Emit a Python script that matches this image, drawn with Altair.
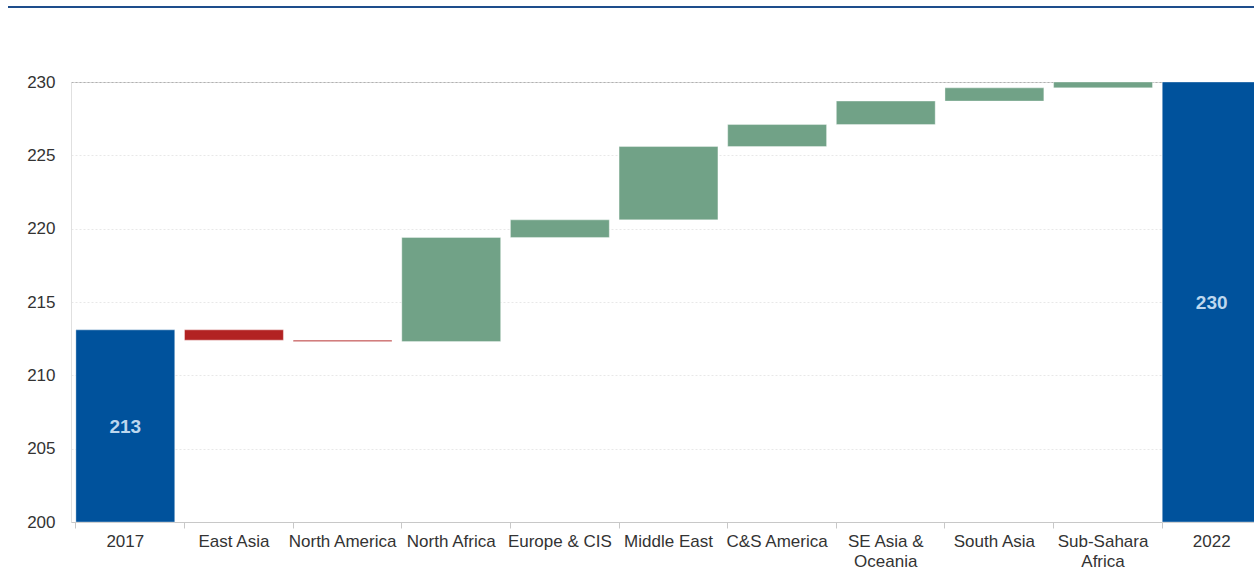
import altair as alt
import pandas as pd

categories = ["2017", "East Asia", "North America", "North Africa", "Europe & CIS",
              "Middle East", "C&S America", "SE Asia & Oceania", "South Asia",
              "Sub-Sahara Africa", "2022"]
start_value = 213.1
changes = [-0.7, -0.1, 7.1, 1.2, 5.0, 1.5, 1.6, 0.9, 0.4]
end_value = 230.0
y_ticks = [200, 205, 210, 215, 220, 225, 230]

rows = []
rows.append({"cat": categories[0], "y0": 200.0, "y1": start_value, "kind": "total",
             "label": f"{start_value:.0f}", "mid": (200.0 + start_value) / 2})
level = start_value
for c, d in zip(categories[1:-1], changes):
    rows.append({"cat": c, "y0": level, "y1": level + d,
                 "kind": "up" if d >= 0 else "down", "label": "", "mid": level})
    level += d
rows.append({"cat": categories[-1], "y0": 200.0, "y1": end_value, "kind": "total",
             "label": f"{end_value:.0f}", "mid": (200.0 + end_value) / 2})
df = pd.DataFrame(rows)

W, H = 1183, 440

label_expr = ("datum.label == 'SE Asia & Oceania' ? ['SE Asia &', 'Oceania'] : "
              "datum.label == 'Sub-Sahara Africa' ? ['Sub-Sahara', 'Africa'] : datum.label")

x_enc = alt.X("cat:N", sort=categories, title=None,
              scale=alt.Scale(paddingInner=0.09, paddingOuter=0.045, range=[0, 1195]),
              axis=alt.Axis(labelAngle=0, labelExpr=label_expr, bandPosition=0,
                            labelFontSize=17, labelColor="#333333", labelPadding=5,
                            labelFont="Liberation Sans", labelLineHeight=20,
                            domainColor="#c8c8c8", tickColor="#c8c8c8", tickSize=6,
                            grid=False))
y_scale = alt.Scale(domain=[200, 230], nice=False, zero=False)

bars = alt.Chart(df).mark_bar(stroke="white", strokeWidth=0.6, strokeOpacity=0.6).encode(
    x=x_enc,
    y=alt.Y("y0:Q", scale=y_scale, title=None,
            axis=alt.Axis(values=y_ticks, labelFontSize=17, labelColor="#333333",
                          labelFont="Liberation Sans", labelPadding=16, ticks=False,
                          domainColor="#e0e0e0",
                          gridColor={"condition": {"test": "datum.value == 230", "value": "#b0b0b0"},
                                     "value": "#e8e8e8"},
                          gridDash=[2, 2])),
    y2="y1:Q",
    color=alt.Color("kind:N", legend=None,
                    scale=alt.Scale(domain=["total", "up", "down"],
                                    range=["#00529C", "#71A287", "#B22222"])),
)

text = alt.Chart(df).mark_text(fontSize=19, fontWeight="bold", color="#BDD7EE",
                               font="Liberation Sans", baseline="middle", dy=1).encode(
    x=alt.X("cat:N", sort=categories),
    y=alt.Y("mid:Q", scale=y_scale),
    text="label:N",
)

top_line = alt.Chart(df).mark_rule(color="#1F4E8C", strokeWidth=1.5).encode(
    x=alt.value(-63), x2=alt.value(W), y=alt.value(-75)
)

chart = alt.layer(bars, text, top_line).properties(
    width=W, height=H,
    autosize=alt.AutoSizeParams(type="none"),
    padding={"left": 71, "top": 82, "right": 0, "bottom": 50},
).configure_view(stroke=None).configure(background="white")

chart.save("out.html", embed_options={"renderer": "svg", "actions": False})
